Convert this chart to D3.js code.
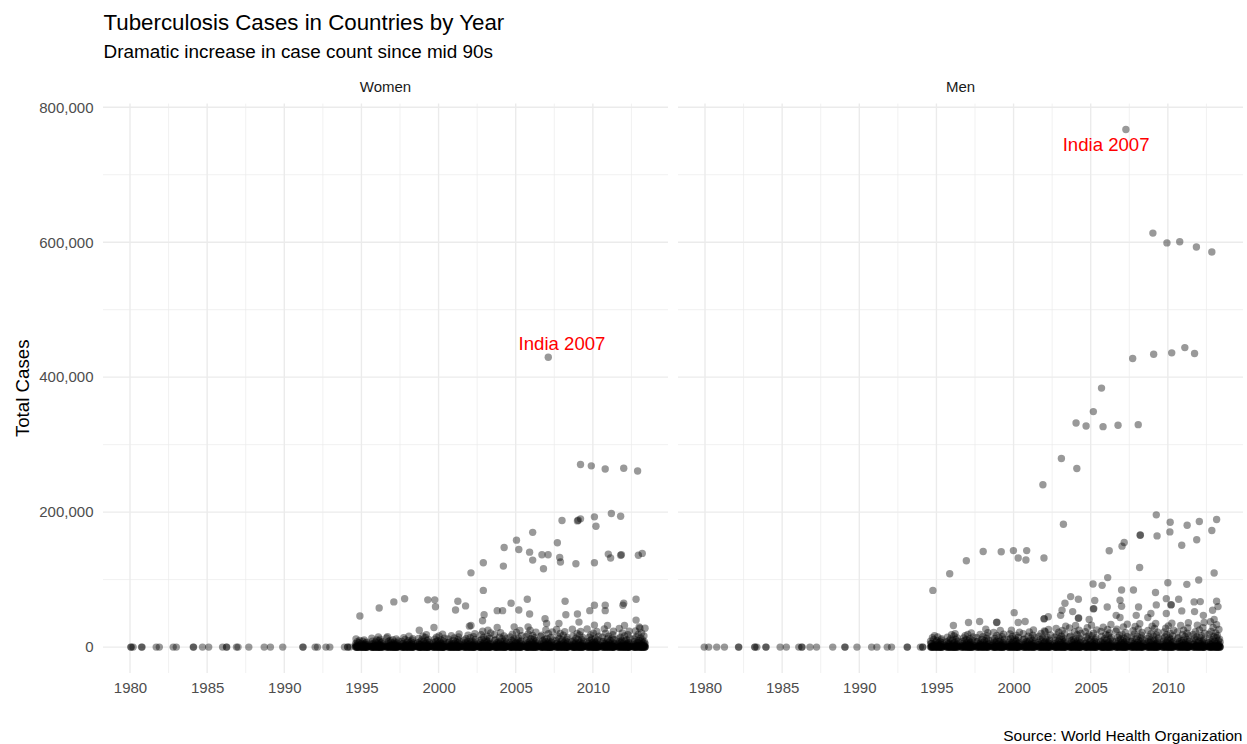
<!DOCTYPE html>
<html>
<head>
<meta charset="utf-8">
<title>Tuberculosis Cases</title>
<style>
  body { margin: 0; background: #fff; }
  svg text { font-family: "Liberation Sans", Arial, sans-serif; }
</style>
</head>
<body>
<svg width="1247" height="744"></svg>
<script src="https://cdnjs.cloudflare.com/ajax/libs/d3/7.8.5/d3.min.js"></script>
<script>
// all case counts are in thousands
const facets = ["Women", "Men"];
const xTicks = [1980, 1985, 1990, 1995, 2000, 2005, 2010];
const yTicks = [0, 200, 400, 600, 800];
const denseYears = [1995, 1996, 1997, 1998, 1999, 2000, 2001, 2002, 2003, 2004,
                    2005, 2006, 2007, 2008, 2009, 2010, 2011, 2012, 2013];

// early reports (all near zero), x = jittered year
const womenEarly = [[1980.05,0],[1980.08,0],[1980.2,0],[1980.75,0],[1980.78,0],[1981.7,0],[1981.9,0],
  [1982.8,0],[1983.0,0],[1984.1,0],[1984.12,0],[1984.7,0],[1985.1,0],[1986.0,0],[1986.25,0],[1986.27,0],
  [1986.9,0],[1987.0,0],[1987.7,0],[1988.7,0],[1989.1,0],[1989.9,0],[1991.2,0],[1991.22,0],[1992.0,0],
  [1992.15,0],[1992.7,0],[1992.95,0],[1993.9,0],[1994.1,0],[1994.12,0],[1994.25,0]];
const menEarly = [[1979.95,0],[1980.24,0],[1980.76,0],[1981.26,0],[1982.17,0],[1982.19,0],[1983.22,0],
  [1983.24,0],[1983.36,0],[1983.94,0],[1983.96,0],[1984.87,0],[1985.27,0],[1986.08,0],[1986.27,0],
  [1986.29,0],[1986.8,0],[1987.23,0],[1988.28,0],[1989.06,0],[1989.08,0],[1989.85,0],[1990.8,0],
  [1991.14,0],[1991.81,0],[1992.09,0],[1993.1,0],[1993.12,0],[1993.96,0],[1994.1,0],[1994.12,0]];

// the crowded band of small countries, one list per year in denseYears
const womenDense = [
  [0,0,0,0,0,0,0,0,0,0,0,0,0,0,0,0,0,0,0.1,0.1,0.2,0.2,0.3,0.4,0.5,0.6,0.7,0.8,0.9,1,1.2,1.4,1.6,1.8,2,2.3,2.6,2.9,3.2,3.6,4,4.4,4.9,5.4,6,6.6,7.3,8,8.8,9.7,10.7,12],
  [0,0,0,0,0,0,0,0,0,0,0,0,0,0,0,0,0,0,0,0.1,0.1,0.2,0.3,0.3,0.4,0.5,0.6,0.8,0.9,1.1,1.3,1.5,1.7,1.9,2.2,2.5,2.8,3.1,3.5,3.9,4.3,4.8,5.3,5.9,6.5,7.2,7.9,8.7,9.6,10.6,11.8,13.2,15],
  [0,0,0,0,0,0,0,0,0,0,0,0,0,0,0,0,0,0,0,0.1,0.2,0.2,0.3,0.4,0.5,0.6,0.7,0.8,1,1.1,1.3,1.5,1.7,2,2.3,2.6,2.9,3.2,3.6,4,4.5,5,5.5,6.1,6.7,7.4,8.2,9,9.9,11,12.2,13.7,15.5],
  [0,0,0,0,0,0,0,0,0,0,0,0,0,0,0,0,0,0,0,0.1,0.1,0.2,0.3,0.4,0.5,0.6,0.7,0.9,1,1.2,1.4,1.6,1.8,2.1,2.4,2.7,3,3.4,3.8,4.2,4.7,5.2,5.7,6.3,6.9,7.6,8.4,9.3,10.2,11.3,12.5,14,16],
  [0,0,0,0,0,0,0,0,0,0,0,0,0,0,0,0,0,0,0,0,0.1,0.2,0.2,0.3,0.4,0.5,0.6,0.7,0.9,1,1.2,1.4,1.6,1.9,2.1,2.4,2.7,3.1,3.4,3.8,4.3,4.7,5.2,5.8,6.4,7,7.7,8.5,9.4,10.4,11.5,12.8,14.3,16.2,18.5],
  [0,0,0,0,0,0,0,0,0,0,0,0,0,0,0,0,0,0,0,0,0.1,0.1,0.2,0.3,0.4,0.5,0.6,0.8,0.9,1.1,1.3,1.5,1.7,1.9,2.2,2.5,2.8,3.2,3.5,3.9,4.4,4.9,5.4,5.9,6.5,7.2,7.9,8.7,9.6,10.6,11.8,13.1,14.7,16.6,19],
  [0,0,0,0,0,0,0,0,0,0,0,0,0,0,0,0,0,0,0,0,0.1,0.2,0.3,0.3,0.4,0.5,0.7,0.8,1,1.1,1.3,1.5,1.8,2,2.3,2.6,2.9,3.3,3.6,4,4.5,5,5.5,6.1,6.7,7.4,8.1,8.9,9.8,10.9,12.1,13.5,15.1,17,19.5],
  [0,0,0,0,0,0,0,0,0,0,0,0,0,0,0,0,0,0,0,0,0.1,0.2,0.2,0.3,0.4,0.6,0.7,0.8,1,1.2,1.4,1.6,1.8,2.1,2.4,2.7,3,3.4,3.7,4.2,4.6,5.1,5.7,6.3,6.9,7.6,8.4,9.2,10.1,11.2,12.4,13.8,15.5,17.5,20],
  [0,0,0,0,0,0,0,0,0,0,0,0,0,0,0,0,0,0,0,0,0,0.1,0.2,0.3,0.4,0.5,0.6,0.7,0.9,1,1.2,1.4,1.6,1.9,2.1,2.4,2.8,3.1,3.5,3.9,4.3,4.8,5.3,5.9,6.5,7.2,7.9,8.7,9.6,10.6,11.7,13,14.5,16.2,18.2,20.8,23.5],
  [0,0,0,0,0,0,0,0,0,0,0,0,0,0,0,0,0,0,0,0,0,0.1,0.2,0.3,0.4,0.5,0.6,0.8,0.9,1.1,1.3,1.5,1.7,2,2.2,2.5,2.9,3.2,3.6,4,4.5,5,5.5,6.1,6.7,7.4,8.1,8.9,9.8,10.8,12,13.3,14.8,16.6,18.7,21.3],
  [0,0,0,0,0,0,0,0,0,0,0,0,0,0,0,0,0,0,0,0,0,0.1,0.2,0.3,0.4,0.5,0.7,0.8,1,1.1,1.3,1.5,1.8,2,2.3,2.6,2.9,3.3,3.7,4.1,4.6,5.1,5.6,6.2,6.8,7.5,8.3,9.1,10,11,12.2,13.5,15.1,16.9,19.1,21.8,24.5],
  [0,0,0,0,0,0,0,0,0,0,0,0,0,0,0,0,0,0,0,0,0,0.1,0.2,0.3,0.4,0.6,0.7,0.9,1,1.2,1.4,1.6,1.8,2.1,2.4,2.7,3,3.4,3.8,4.2,4.7,5.2,5.7,6.3,7,7.7,8.5,9.3,10.2,11.3,12.5,13.9,15.5,17.3,19.5,22.2,25],
  [0,0,0,0,0,0,0,0,0,0,0,0,0,0,0,0,0,0,0,0,0,0.1,0.2,0.3,0.5,0.6,0.7,0.9,1,1.2,1.4,1.6,1.9,2.1,2.4,2.7,3.1,3.4,3.8,4.3,4.8,5.3,5.8,6.4,7.1,7.8,8.6,9.5,10.4,11.5,12.7,14.1,15.7,17.6,19.8,22.5,25.5],
  [0,0,0,0,0,0,0,0,0,0,0,0,0,0,0,0,0,0,0,0,0,0.2,0.2,0.3,0.5,0.6,0.8,0.9,1.1,1.3,1.5,1.7,1.9,2.2,2.5,2.8,3.1,3.5,3.9,4.3,4.8,5.3,5.9,6.5,7.2,7.9,8.7,9.6,10.5,11.6,12.9,14.3,15.9,17.8,20.1,22.8,26],
  [0,0,0,0,0,0,0,0,0,0,0,0,0,0,0,0,0,0,0,0,0,0.1,0.2,0.4,0.5,0.6,0.8,0.9,1.1,1.3,1.5,1.7,2,2.2,2.5,2.8,3.2,3.5,3.9,4.4,4.9,5.4,6,6.6,7.2,8,8.8,9.7,10.6,11.7,13,14.4,16.1,18,20.3,23,26.5],
  [0,0,0,0,0,0,0,0,0,0,0,0,0,0,0,0,0,0,0,0,0,0.1,0.3,0.4,0.5,0.7,0.8,1,1.1,1.3,1.5,1.8,2,2.3,2.6,2.9,3.2,3.6,4,4.4,4.9,5.4,6,6.6,7.3,8,8.9,9.8,10.7,11.8,13.1,14.5,16.2,18.1,20.4,23.2,26.8],
  [0,0,0,0,0,0,0,0,0,0,0,0,0,0,0,0,0,0,0,0,0,0.2,0.3,0.4,0.5,0.7,0.8,1,1.2,1.4,1.6,1.8,2,2.3,2.6,2.9,3.3,3.6,4,4.5,5,5.5,6.1,6.7,7.4,8.1,8.9,9.8,10.8,11.9,13.2,14.6,16.3,18.3,20.6,23.4,27],
  [0,0,0,0,0,0,0,0,0,0,0,0,0,0,0,0,0,0,0,0,0,0.1,0.3,0.4,0.6,0.7,0.9,1,1.2,1.4,1.6,1.8,2.1,2.3,2.6,3,3.3,3.7,4.1,4.5,5,5.6,6.1,6.8,7.4,8.2,9,9.9,10.9,12,13.3,14.7,16.4,18.4,20.8,23.6,27.5],
  [0,0,0,0,0,0,0,0,0,0,0,0,0,0,0,0,0,0,0,0,0,0.2,0.3,0.4,0.6,0.7,0.9,1,1.2,1.4,1.6,1.9,2.1,2.4,2.7,3,3.3,3.7,4.1,4.6,5.1,5.6,6.2,6.8,7.5,8.3,9.1,10,11,12.1,13.4,14.9,16.6,18.6,21,23.8,28]
];
const menDense = [
  [0,0,0,0,0,0,0,0,0,0,0,0,0,0,0,0,0,0,0.1,0.2,0.3,0.4,0.5,0.7,0.9,1.1,1.3,1.5,1.8,2.1,2.4,2.7,3.1,3.5,3.9,4.4,4.9,5.4,6,6.6,7.3,8,8.8,9.6,10.5,11.5,12.6,13.8,15.2,17],
  [0,0,0,0,0,0,0,0,0,0,0,0,0,0,0,0,0,0,0.1,0.2,0.3,0.4,0.6,0.7,0.9,1.1,1.4,1.6,1.9,2.2,2.5,2.8,3.2,3.6,4.1,4.6,5.1,5.7,6.3,6.9,7.6,8.4,9.2,10.1,11.1,12.2,13.4,14.8,16.4,18.2,20],
  [0,0,0,0,0,0,0,0,0,0,0,0,0,0,0,0,0,0,0.1,0.2,0.3,0.5,0.6,0.8,1,1.2,1.4,1.7,1.9,2.2,2.6,2.9,3.3,3.7,4.2,4.7,5.2,5.8,6.4,7.1,7.8,8.6,9.4,10.3,11.3,12.4,13.7,15.1,16.7,18.6,21],
  [0,0,0,0,0,0,0,0,0,0,0,0,0,0,0,0,0,0,0.1,0.2,0.4,0.5,0.7,0.8,1,1.2,1.5,1.7,2,2.3,2.6,3,3.4,3.8,4.3,4.8,5.3,5.9,6.5,7.2,7.9,8.7,9.6,10.5,11.5,12.7,14,15.4,17,18.9,21.5],
  [0,0,0,0,0,0,0,0,0,0,0,0,0,0,0,0,0,0,0,0.1,0.2,0.3,0.5,0.6,0.8,1,1.2,1.5,1.7,2,2.3,2.7,3,3.4,3.9,4.3,4.8,5.4,6,6.6,7.3,8,8.8,9.7,10.6,11.6,12.8,14.1,15.5,17.2,19.2,21.7,24.5],
  [0,0,0,0,0,0,0,0,0,0,0,0,0,0,0,0,0,0,0,0.1,0.2,0.4,0.5,0.7,0.8,1,1.3,1.5,1.8,2.1,2.4,2.7,3.1,3.5,3.9,4.4,4.9,5.5,6.1,6.7,7.4,8.2,9,9.8,10.8,11.8,13,14.3,15.8,17.5,19.5,22,25],
  [0,0,0,0,0,0,0,0,0,0,0,0,0,0,0,0,0,0,0,0.1,0.3,0.4,0.6,0.7,0.9,1.1,1.3,1.6,1.8,2.1,2.4,2.8,3.2,3.6,4,4.5,5,5.6,6.2,6.8,7.5,8.3,9.1,10,11,12,13.2,14.6,16.1,17.8,19.9,22.4,25.5],
  [0,0,0,0,0,0,0,0,0,0,0,0,0,0,0,0,0,0,0,0.2,0.3,0.4,0.6,0.7,0.9,1.1,1.4,1.6,1.9,2.2,2.5,2.8,3.2,3.6,4.1,4.6,5.1,5.7,6.3,6.9,7.6,8.4,9.2,10.1,11.1,12.2,13.4,14.8,16.3,18.1,20.2,22.8,26],
  [0,0,0,0,0,0,0,0,0,0,0,0,0,0,0,0,0,0,0,0,0.1,0.2,0.4,0.5,0.7,0.9,1.1,1.3,1.6,1.8,2.1,2.4,2.8,3.2,3.6,4,4.5,5,5.6,6.2,6.9,7.6,8.4,9.2,10.1,11.1,12.2,13.4,14.7,16.2,17.8,19.7,21.9,24.5,27.5,31],
  [0,0,0,0,0,0,0,0,0,0,0,0,0,0,0,0,0,0,0,0,0.1,0.3,0.4,0.6,0.7,0.9,1.1,1.4,1.6,1.9,2.2,2.5,2.9,3.3,3.7,4.1,4.6,5.2,5.7,6.4,7,7.8,8.6,9.4,10.3,11.3,12.4,13.6,15,16.5,18.2,20.1,22.4,25,28.2,32],
  [0,0,0,0,0,0,0,0,0,0,0,0,0,0,0,0,0,0,0,0,0.2,0.3,0.4,0.6,0.8,1,1.2,1.4,1.7,1.9,2.2,2.6,2.9,3.3,3.7,4.2,4.7,5.3,5.9,6.5,7.2,7.9,8.7,9.6,10.5,11.5,12.6,13.9,15.3,16.8,18.5,20.5,22.8,25.5,28.8,32.5],
  [0,0,0,0,0,0,0,0,0,0,0,0,0,0,0,0,0,0,0,0,0.1,0.3,0.5,0.6,0.8,1,1.2,1.5,1.7,2,2.3,2.6,3,3.4,3.8,4.3,4.8,5.4,6,6.6,7.3,8.1,8.9,9.8,10.7,11.7,12.9,14.2,15.6,17.1,18.9,20.9,23.3,26,29.4,33.5],
  [0,0,0,0,0,0,0,0,0,0,0,0,0,0,0,0,0,0,0,0,0.2,0.3,0.5,0.7,0.8,1,1.3,1.5,1.8,2,2.3,2.7,3,3.4,3.9,4.4,4.9,5.5,6.1,6.8,7.5,8.2,9.1,10,10.9,12,13.1,14.4,15.8,17.4,19.2,21.3,23.7,26.5,30,34],
  [0,0,0,0,0,0,0,0,0,0,0,0,0,0,0,0,0,0,0,0,0.2,0.4,0.5,0.7,0.9,1.1,1.3,1.5,1.8,2.1,2.4,2.7,3.1,3.5,3.9,4.4,5,5.6,6.2,6.9,7.6,8.4,9.2,10.1,11.1,12.2,13.4,14.7,16.1,17.7,19.6,21.7,24.1,27,30.5,34.5],
  [0,0,0,0,0,0,0,0,0,0,0,0,0,0,0,0,0,0,0,0,0.1,0.3,0.5,0.7,0.9,1.1,1.3,1.6,1.8,2.1,2.4,2.8,3.1,3.6,4,4.5,5,5.6,6.3,7,7.7,8.5,9.3,10.3,11.3,12.4,13.6,14.9,16.4,18,19.9,22,24.5,27.5,31,35],
  [0,0,0,0,0,0,0,0,0,0,0,0,0,0,0,0,0,0,0,0,0.2,0.3,0.5,0.7,0.9,1.1,1.4,1.6,1.9,2.2,2.5,2.8,3.2,3.6,4.1,4.6,5.1,5.7,6.4,7.1,7.8,8.6,9.5,10.4,11.4,12.5,13.7,15.1,16.6,18.3,20.2,22.4,24.9,28,31.5,35.5],
  [0,0,0,0,0,0,0,0,0,0,0,0,0,0,0,0,0,0,0,0,0.2,0.4,0.5,0.7,0.9,1.1,1.4,1.6,1.9,2.2,2.5,2.9,3.2,3.7,4.1,4.6,5.2,5.8,6.4,7.1,7.9,8.7,9.6,10.5,11.5,12.7,13.9,15.3,16.8,18.5,20.4,22.6,25.2,28.3,32,36],
  [0,0,0,0,0,0,0,0,0,0,0,0,0,0,0,0,0,0,0,0,0.1,0.3,0.5,0.7,0.9,1.2,1.4,1.7,1.9,2.2,2.6,2.9,3.3,3.7,4.2,4.7,5.2,5.9,6.5,7.2,8,8.8,9.7,10.6,11.7,12.8,14.1,15.5,17,18.7,20.7,22.9,25.5,28.7,32.5,36.5],
  [0,0,0,0,0,0,0,0,0,0,0,0,0,0,0,0,0,0,0,0,0.2,0.4,0.6,0.8,1,1.2,1.4,1.7,2,2.3,2.6,2.9,3.3,3.8,4.2,4.7,5.3,5.9,6.6,7.3,8.1,8.9,9.8,10.8,11.8,13,14.3,15.7,17.2,19,21,23.3,26,29.2,33,37.5]
];

// countries that stand out from the band: [jittered year, thousands of cases]
const womenHigh = [[2007.11,429.5],
  [2009.2,270.6],[2009.9,268.6],[2010.8,264],[2012.0,265],[2012.9,261],
  [2011.2,198],[2011.8,194],[2010.1,193],[2009.2,190],[2009.0,187],[2009.05,188],[2008.0,187.6],[2010.2,179],
  [2006.1,170],[2005.05,158.5],[2007.7,154.6],[2004.25,147.6],[2005.2,144.7],[2005.9,140.7],[2006.1,128.9],
  [2006.7,136.8],[2007.1,136.8],[2006.8,116],[2007.85,132.8],[2007.9,126],[2008.9,123.5],[2010.1,125],
  [2011.0,137.8],[2011.15,132],[2011.85,136.8],[2011.8,136.2],[2012.95,136],[2013.2,138.8],[2002.9,125],
  [2004.2,120],[2002.1,110],[2002.9,84],
  [1994.9,46],[1996.15,58],[1997.1,67],[1997.8,71.6],[1999.3,70],[1999.75,70],[1999.8,59.8],[1999.7,29],
  [2001.25,68],[2001.75,61],[2001.1,55],[2002.95,48],[2002.85,39],[2003.8,54],[2004.15,54],[2004.7,65],
  [2005.2,55],[2005.75,71],[2005.9,49],[2008.2,68],[2008.25,48],[2009.0,49],[2009.8,54],[2010.1,62],
  [2010.8,62],[2010.8,54],[2012.0,65],[2011.95,62],[2012.8,71],[2012.8,40],
  [1998.75,25],[2002.0,31],[2002.1,32],[2003.2,25],[2003.8,29],[2004.9,30],[2005.8,30],[2006.9,42],
  [2007.0,35],[2007.8,35],[2009.1,37],[2010.1,32.6],[2010.95,32],[2012.05,32],[2013.0,30],[2013.05,28]];
const menHigh = [[2007.28,767],
  [2009.03,613.5],[2009.94,599],[2010.77,600.7],[2011.85,593],[2012.85,585.5],
  [2007.72,427.6],[2009.08,434],[2010.25,436],[2011.1,443.8],[2011.73,435],
  [2005.7,383.8],[2005.17,349],[2004.05,332],[2004.7,327.7],[2005.8,326.7],[2006.77,328.7],[2008.08,329.6],
  [2003.1,279.5],[2004.1,264.7],[2001.9,240.6],[2003.23,182],
  [2009.25,196],[2010.15,185],[2011.25,180.6],[2012.04,186],[2013.16,189],[2010.13,170.7],[2009.3,164.8],
  [2008.2,165.8],[2008.22,166.2],[2012.85,172.7],[2011.87,159],[2010.9,151],[2007.17,155],[2007.03,149.6],
  [2006.2,142.7],[2008.17,118],[2001.97,132],[1998.03,141.7],[1999.2,141.2],[1999.99,143],[2000.3,132],
  [2000.85,143],[2000.8,129],[1996.94,128],[1995.86,108.7],[1994.77,84],
  [2013.0,109.7],[2012.0,99.4],[2011.23,93],[2010.0,95.4],[2009.2,81],[2007.77,84.6],[2007.0,84.6],
  [2006.1,103],[2005.74,91.5],[2005.15,93.5],[2005.26,69],[2005.17,56.6],[2005.2,57],[2003.7,74.8],
  [2004.2,70.8],[2003.33,65],[2003.14,54.6],[2003.83,52.6],[2004.2,42.8],[2004.22,43.2],[2004.9,40.8],
  [2006.07,59.5],[2006.9,69.4],[2007.0,60.5],[2008.1,59.5],[2009.25,62.5],[2009.9,71.8],[2010.2,62.5],
  [2010.22,62.9],[2010.7,70.8],[2011.7,67],[2012.1,67.4],[2013.16,68],[2012.9,54.6],[2013.25,60],
  [2008.9,49.7],[2009.9,49.7],[2010.9,53.6],[2011.73,52.6],[2012.3,47],[2013.0,40.8],
  [2000.04,51],[2000.3,36.4],[2000.75,37.9],[1998.9,36.4],[1998.92,36.8],[1997.8,37.9],[1997.08,36.4],
  [1996.1,32],[1998.2,26.6],[2001.97,41.8],[2001.99,42.2],[2002.25,45],[2002.0,24],[2003.05,47],
  [2006.65,47],[2006.9,43.8],[2007.95,47],[2008.7,43.8]];

// annotation positions [year, thousands]
const womenNote = [2008, 450];
const menNote = [2006, 745];

// fixed horizontal jitter for the crowded band (fraction of a year)
const jitter = [-0.31, 0.12, 0.37, -0.05, 0.24, -0.38, 0.02, 0.29, -0.17, 0.33, -0.26, 0.08, -0.12,
  0.18, -0.35, 0.39, -0.22, 0.05, 0.27, -0.09, 0.35, -0.29, 0.14, -0.02, 0.21, -0.33, 0.1, -0.19,
  0.31, -0.07, 0.16, -0.24, 0.38, -0.14, 0.03, 0.26, -0.37];

const svg = d3.select("svg");
const panelTop = 103.6, panelBottom = 673;
const panels = [
  { name: facets[0], early: womenEarly, dense: womenDense, high: womenHigh, note: womenNote, x0: 103, x1: 668 },
  { name: facets[1], early: menEarly, dense: menDense, high: menHigh, note: menNote, x0: 678, x1: 1243 }
];

const y = d3.scaleLinear().domain([-38.4, 805.4]).range([panelBottom, panelTop]);

svg.append("rect").attr("width", 1247).attr("height", 744).attr("fill", "#fff");

panels.forEach((p, pi) => {
  const x = d3.scaleLinear().domain([1978.25, 2014.87]).range([p.x0, p.x1]);
  const g = svg.append("g");

  // grid
  const minorX = xTicks.map(t => t + 2.5);
  const minorY = yTicks.slice(0, -1).map(t => t + 100);
  g.selectAll(".mnx").data(minorX).enter().append("line")
    .attr("x1", d => x(d)).attr("x2", d => x(d)).attr("y1", panelTop).attr("y2", panelBottom)
    .attr("stroke", "#ebebeb").attr("stroke-width", 0.7);
  g.selectAll(".mny").data(minorY).enter().append("line")
    .attr("x1", p.x0).attr("x2", p.x1).attr("y1", d => y(d)).attr("y2", d => y(d))
    .attr("stroke", "#ebebeb").attr("stroke-width", 0.7);
  g.selectAll(".mjx").data(xTicks).enter().append("line")
    .attr("x1", d => x(d)).attr("x2", d => x(d)).attr("y1", panelTop).attr("y2", panelBottom)
    .attr("stroke", "#ebebeb").attr("stroke-width", 1.4);
  g.selectAll(".mjy").data(yTicks).enter().append("line")
    .attr("x1", p.x0).attr("x2", p.x1).attr("y1", d => y(d)).attr("y2", d => y(d))
    .attr("stroke", "#ebebeb").attr("stroke-width", 1.4);

  // points
  const pts = p.early.slice();
  denseYears.forEach((yr, yi) => {
    p.dense[yi].forEach((v, i) => {
      pts.push([yr + jitter[(i + yi * 11) % jitter.length], v]);
    });
  });
  p.high.forEach(d => pts.push(d));

  g.selectAll("circle").data(pts).enter().append("circle")
    .attr("cx", d => x(d[0])).attr("cy", d => y(d[1])).attr("r", 3.7)
    .attr("fill", "#000").attr("fill-opacity", 0.4);

  // annotation
  g.append("text").attr("x", x(p.note[0])).attr("y", y(p.note[1]))
    .attr("text-anchor", "middle").attr("dy", "0.36em")
    .attr("fill", "#ff0000").attr("font-size", "18.6px").text("India 2007");

  // strip
  svg.append("text").attr("x", (p.x0 + p.x1) / 2).attr("y", 92)
    .attr("text-anchor", "middle").attr("font-size", "15px").attr("fill", "#1a1a1a").text(p.name);

  // x axis
  const xa = svg.append("g").attr("transform", "translate(0," + panelBottom + ")")
    .call(d3.axisBottom(x).tickValues(xTicks).tickFormat(d3.format("d")).tickSize(0).tickPadding(9));
  xa.select(".domain").remove();
  xa.selectAll("text").attr("font-size", "15px").attr("fill", "#4d4d4d")
    .attr("font-family", "'Liberation Sans', Arial, sans-serif");

  if (pi === 0) {
    const ya = svg.append("g").attr("transform", "translate(" + p.x0 + ",0)")
      .call(d3.axisLeft(y).tickValues(yTicks).tickFormat(d => d3.format(",")(d * 1000)).tickSize(0).tickPadding(9.5));
    ya.select(".domain").remove();
    ya.selectAll("text").attr("font-size", "15px").attr("fill", "#4d4d4d")
      .attr("font-family", "'Liberation Sans', Arial, sans-serif");
  }
});

svg.append("text").attr("transform", "translate(29," + ((panelTop + panelBottom) / 2) + ") rotate(-90)")
  .attr("text-anchor", "middle").attr("font-size", "18.7px").attr("fill", "#000").text("Total Cases");

svg.append("text").attr("x", 103.5).attr("y", 29.5)
  .attr("font-size", "22.3px").attr("fill", "#000").text("Tuberculosis Cases in Countries by Year");
svg.append("text").attr("x", 103.5).attr("y", 58)
  .attr("font-size", "18.9px").attr("fill", "#000").text("Dramatic increase in case count since mid 90s");

svg.append("text").attr("x", 1242.5).attr("y", 740.5).attr("text-anchor", "end")
  .attr("font-size", "15.5px").attr("fill", "#000").text("Source: World Health Organization");
</script>
</body>
</html>
